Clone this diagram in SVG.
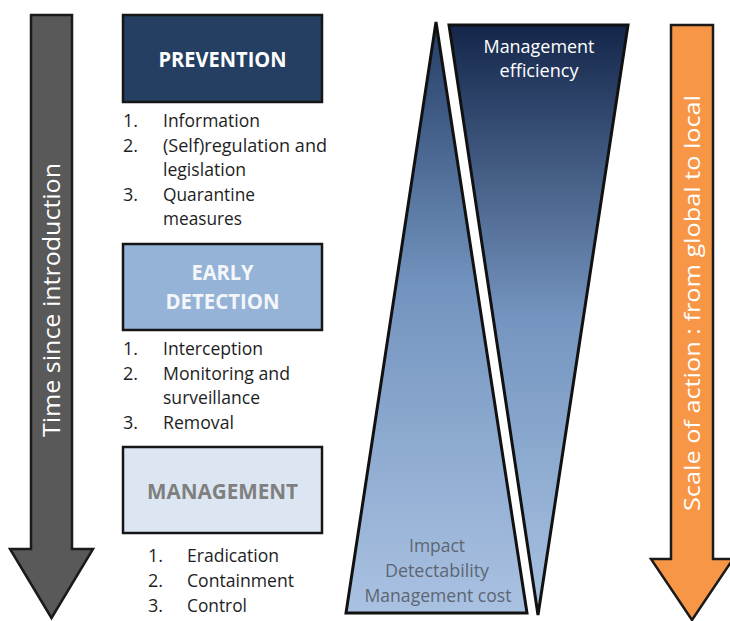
<svg xmlns="http://www.w3.org/2000/svg" width="730" height="621" viewBox="0 0 730 621">
<style>
.box{stroke:#161616;stroke-width:2.5}
.arrow{stroke:#1a1a1a;stroke-width:2.5;stroke-linejoin:miter}
.tri{stroke:#111;stroke-width:3;stroke-linejoin:miter}
text{font-family:"Open Sans","Liberation Sans",sans-serif}
.hd{font-size:21px;font-weight:bold;text-anchor:middle}
.li{font-size:18px;fill:#1e1e1e}
.tt{font-size:18px;text-anchor:middle}
.rot{fill:#ffffff;text-anchor:middle}
</style>
<defs>
<linearGradient id="gL" gradientUnits="userSpaceOnUse" x1="0" y1="22" x2="0" y2="613">
<stop offset="0" stop-color="#233d66"/>
<stop offset="0.45" stop-color="#7394bf"/>
<stop offset="1" stop-color="#aac2e2"/>
</linearGradient>
<linearGradient id="gR" gradientUnits="userSpaceOnUse" x1="0" y1="25" x2="0" y2="615">
<stop offset="0" stop-color="#14264a"/>
<stop offset="0.5" stop-color="#7595c0"/>
<stop offset="1" stop-color="#a8c2e2"/>
</linearGradient>
</defs>

<g id="time-arrow">
<polygon class="arrow" fill="#595959" points="31,15 72,15 72,549 93,549 51.5,618 10,549 31,549"/>
<text class="rot" font-size="23" transform="translate(52,300) rotate(-90)" x="0" y="8" textLength="274" lengthAdjust="spacingAndGlyphs">Time since introduction</text>
</g>

<g id="scale-arrow">
<polygon class="arrow" fill="#f79646" points="671,25 713,25 713,559 733,559 692,620 651,559 671,559"/>
<text class="rot" font-size="22" transform="translate(692,303) rotate(-90)" x="0" y="8" textLength="416" lengthAdjust="spacingAndGlyphs">Scale of action : from global to local</text>
</g>

<g id="prevention">
<rect class="box" x="123" y="15" width="199" height="87" fill="#243f61"/>
<text class="hd" fill="#ffffff" x="222.5" y="67" textLength="128" lengthAdjust="spacingAndGlyphs">PREVENTION</text>
<text class="li" x="123" y="127">1.</text>
<text class="li" x="163" y="127" textLength="97" lengthAdjust="spacingAndGlyphs">Information</text>
<text class="li" x="123" y="152">2.</text>
<text class="li" x="163" y="152" textLength="164" lengthAdjust="spacingAndGlyphs">(Self)regulation and</text>
<text class="li" x="163" y="176" textLength="83" lengthAdjust="spacingAndGlyphs">legislation</text>
<text class="li" x="123" y="201">3.</text>
<text class="li" x="163" y="201" textLength="92" lengthAdjust="spacingAndGlyphs">Quarantine</text>
<text class="li" x="163" y="225" textLength="79" lengthAdjust="spacingAndGlyphs">measures</text>
</g>

<g id="early-detection">
<rect class="box" x="123" y="244" width="199" height="86" fill="#95b3d7"/>
<text class="hd" fill="#f4f6fa" x="222.5" y="280" textLength="62" lengthAdjust="spacingAndGlyphs">EARLY</text>
<text class="hd" fill="#f4f6fa" x="222.5" y="309" textLength="114" lengthAdjust="spacingAndGlyphs">DETECTION</text>
<text class="li" x="123" y="355">1.</text>
<text class="li" x="163" y="355" textLength="100" lengthAdjust="spacingAndGlyphs">Interception</text>
<text class="li" x="123" y="380">2.</text>
<text class="li" x="163" y="380" textLength="127" lengthAdjust="spacingAndGlyphs">Monitoring and</text>
<text class="li" x="163" y="404" textLength="97" lengthAdjust="spacingAndGlyphs">surveillance</text>
<text class="li" x="123" y="429">3.</text>
<text class="li" x="163" y="429" textLength="71" lengthAdjust="spacingAndGlyphs">Removal</text>
</g>

<g id="management">
<rect class="box" x="123" y="447" width="199" height="86" fill="#dce6f2"/>
<text class="hd" fill="#7f7f7f" x="222.5" y="499" textLength="151" lengthAdjust="spacingAndGlyphs">MANAGEMENT</text>
<text class="li" x="148" y="562">1.</text>
<text class="li" x="187" y="562" textLength="92" lengthAdjust="spacingAndGlyphs">Eradication</text>
<text class="li" x="148" y="587">2.</text>
<text class="li" x="187" y="587" textLength="107" lengthAdjust="spacingAndGlyphs">Containment</text>
<text class="li" x="148" y="612">3.</text>
<text class="li" x="187" y="612" textLength="60" lengthAdjust="spacingAndGlyphs">Control</text>
</g>

<g id="impact-triangle">
<polygon class="tri" fill="url(#gL)" points="436,22 346,613 527,613"/>
<text class="tt" fill="#5d6673" x="437" y="552" textLength="56" lengthAdjust="spacingAndGlyphs">Impact</text>
<text class="tt" fill="#5d6673" x="437" y="577" textLength="104" lengthAdjust="spacingAndGlyphs">Detectability</text>
<text class="tt" fill="#5d6673" x="438" y="602" textLength="147" lengthAdjust="spacingAndGlyphs">Management cost</text>
</g>

<g id="efficiency-triangle">
<polygon class="tri" fill="url(#gR)" points="449,25 628,25 538,615"/>
<text class="tt" fill="#ffffff" x="539" y="53" textLength="111" lengthAdjust="spacingAndGlyphs">Management</text>
<text class="tt" fill="#ffffff" x="539" y="77" textLength="79" lengthAdjust="spacingAndGlyphs">efficiency</text>
</g>

<g id="connectors"></g>
</svg>
